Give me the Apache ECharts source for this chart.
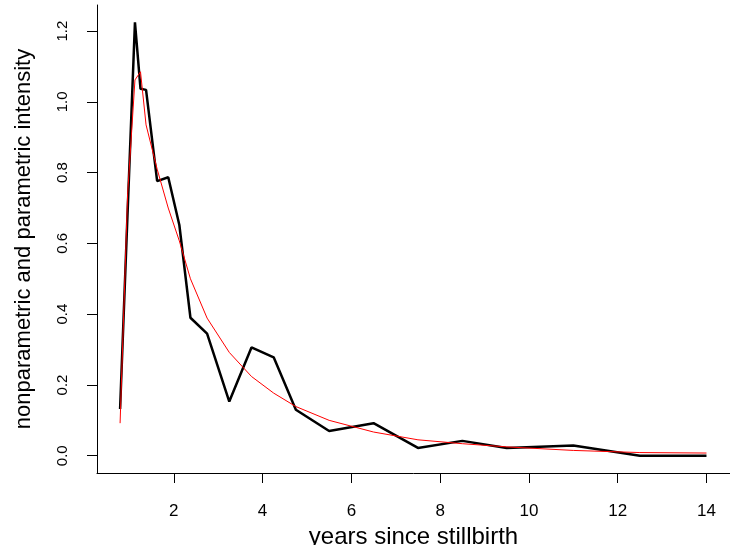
<!DOCTYPE html>
<html>
<head>
<meta charset="utf-8">
<script src="https://cdn.jsdelivr.net/npm/echarts@6/dist/echarts.min.js"></script>
<style>
html,body{margin:0;padding:0;background:#fff;}
#chart{width:730px;height:545px;}
</style>
</head>
<body>
<div id="chart"></div>
<script>
// years since stillbirth (x positions of the estimates)
const years = [0.79, 0.96, 1.125, 1.25, 1.375, 1.625, 1.875, 2.125, 2.375, 2.75, 3.25, 3.75, 4.25, 4.75, 5.5, 6.5, 7.5, 8.5, 9.5, 11, 12.5, 14];
// nonparametric intensity (black)
const nonparametric = [0.132, 0.69, 1.225, 1.037, 1.034, 0.776, 0.787, 0.652, 0.39, 0.345, 0.153, 0.306, 0.278, 0.13, 0.07, 0.092, 0.022, 0.042, 0.022, 0.029, 0.0, 0.0];
// parametric intensity (red)
const parametric = [0.092, 0.74, 1.062, 1.085, 0.935, 0.81, 0.70, 0.607, 0.50, 0.389, 0.292, 0.224, 0.177, 0.139, 0.10, 0.067, 0.045, 0.034, 0.025, 0.015, 0.009, 0.0076];
// tick labels
const xTicks = [2, 4, 6, 8, 10, 12, 14];
const yTicks = [0, 0.2, 0.4, 0.6, 0.8, 1.0, 1.2];

const xMin = 0.27, xMax = 14.53;
const yMin = -0.0488, yMax = 1.2738;

const chart = echarts.init(document.getElementById('chart'), null, {renderer: 'canvas'});
const FONT = '"Liberation Sans", Arial, Helvetica, sans-serif';

chart.setOption({
  animation: false,
  backgroundColor: '#ffffff',
  grid: {left: 97, right: 0, top: 5, bottom: 72, containLabel: false, outerBoundsMode: 'none'},
  xAxis: {
    type: 'value',
    min: xMin, max: xMax,
    name: 'years since stillbirth',
    nameLocation: 'middle',
    nameGap: 40,
    nameTextStyle: {fontFamily: FONT, fontSize: 24, color: '#000'},
    axisLine: {show: true, onZero: false, lineStyle: {color: '#000', width: 1}},
    axisTick: {show: true, length: 10, inside: false, customValues: xTicks, lineStyle: {color: '#000'}},
    axisLabel: {show: true, customValues: xTicks, margin: 30, fontFamily: FONT, fontSize: 17, color: '#000',
      formatter: v => String(v)},
    splitLine: {show: false}
  },
  yAxis: {
    type: 'value',
    min: yMin, max: yMax,
    name: 'nonparametric and parametric intensity',
    nameLocation: 'middle',
    nameGap: 62,
    nameRotate: 90,
    nameTextStyle: {fontFamily: FONT, fontSize: 22, color: '#000'},
    axisLine: {show: true, onZero: false, lineStyle: {color: '#000', width: 1}},
    axisTick: {show: true, length: 10, inside: false, customValues: yTicks, lineStyle: {color: '#000'}},
    axisLabel: {show: true, customValues: yTicks, rotate: 90, margin: 27, fontFamily: FONT, fontSize: 15, color: '#000',
      formatter: v => v.toFixed(1)},
    splitLine: {show: false}
  },
  series: [
    {
      type: 'line',
      name: 'nonparametric',
      data: years.map((x, i) => [x, nonparametric[i]]),
      showSymbol: false,
      symbol: 'none',
      lineStyle: {color: '#000000', width: 2.5},
      z: 2
    },
    {
      type: 'line',
      name: 'parametric',
      data: years.map((x, i) => [x, parametric[i]]),
      showSymbol: false,
      symbol: 'none',
      lineStyle: {color: '#ff0000', width: 1},
      z: 3
    }
  ]
});
</script>
</body>
</html>
